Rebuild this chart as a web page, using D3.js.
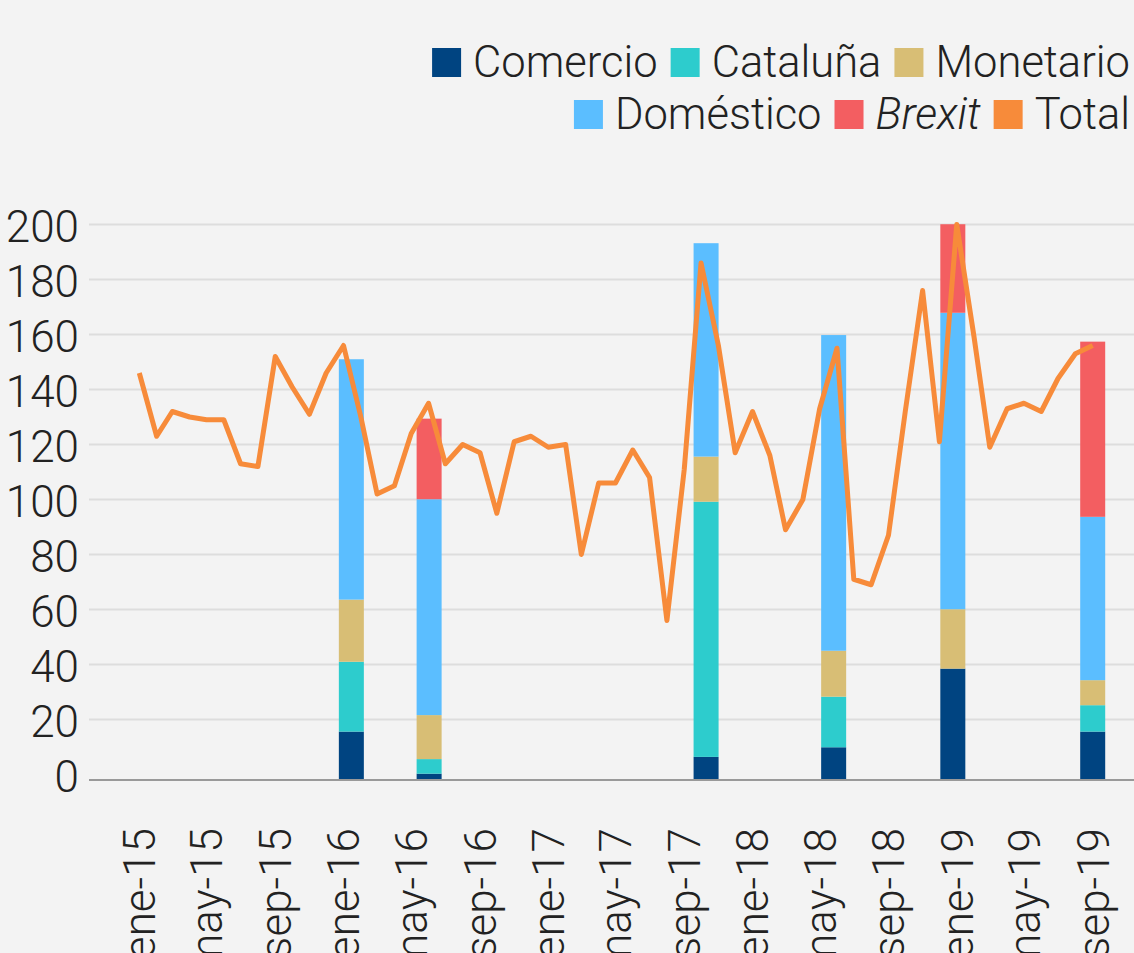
<!DOCTYPE html>
<html>
<head>
<meta charset="utf-8">
<script src="https://cdn.jsdelivr.net/npm/d3@7"></script>
<style>
  body { margin: 0; background: #f3f3f3; }
  svg { display: block; font-family: Roboto, 'Open Sans', sans-serif; font-weight: 300; }
</style>
</head>
<body>
<div id="vis"></div>
<script>
var width = 1134;
var height = 953;

// monthly total, ene-15 .. sep-19
var startMonth = new Date(2015, 0, 1);
var totalValues = [
  146, 123, 132, 130, 129, 129, 113, 112, 152, 141, 131, 146,
  156, 130, 102, 105, 124, 135, 113, 120, 117, 95, 121, 123,
  119, 120, 80, 106, 106, 118, 108, 56, 111, 186, 156, 117,
  132, 116, 89, 100, 133, 155, 71, 69, 87, 132, 176, 121,
  200, 159, 119, 133, 135, 132, 144, 153, 156
];

// episodes (stacked bars)
var barDates = ['2016-01-15', '2016-06-02', '2017-10-10', '2018-05-26', '2018-12-25', '2019-09-01'];
var comercio   = [15.6, 0.3,  6.4,   9.9, 38.5, 15.6];
var cataluna   = [25.4, 5.3, 92.8,  18.4,  0,    9.6];
var monetario  = [22.6, 16,  16.4,  16.7, 21.6,  9.1];
var domestico  = [87.4, 78.5, 77.6, 114.8, 107.8, 59.4];
var brexit     = [0,   29.3,  0,     0,   32.2, 63.7];

var seriesKeys = ['Comercio', 'Cataluña', 'Monetario', 'Doméstico', 'Brexit'];
var seriesColors = ['#004481', '#2dcccd', '#d8be75', '#5bbeff', '#f35e61'];
var totalColor = '#f78b3a';

var xTickLabels = ['ene-15', 'may-15', 'sep-15', 'ene-16', 'may-16', 'sep-16', 'ene-17', 'may-17',
  'sep-17', 'ene-18', 'may-18', 'sep-18', 'ene-19', 'may-19', 'sep-19'];
var yTicks = [0, 20, 40, 60, 80, 100, 120, 140, 160, 180, 200];

var parseDay = d3.timeParse('%Y-%m-%d');

var lineData = totalValues.map(function (v, i) {
  return { date: d3.timeMonth.offset(startMonth, i), value: v };
});

var barData = barDates.map(function (d, i) {
  return {
    date: parseDay(d),
    'Comercio': comercio[i],
    'Cataluña': cataluna[i],
    'Monetario': monetario[i],
    'Doméstico': domestico[i],
    'Brexit': brexit[i]
  };
});

var svg = d3.select('#vis').append('svg')
  .attr('width', width)
  .attr('height', height);

svg.append('rect')
  .attr('width', width)
  .attr('height', height)
  .attr('fill', '#f3f3f3');

var x = d3.scaleTime()
  .domain([startMonth, d3.timeMonth.offset(startMonth, totalValues.length - 1)])
  .range([139.3, 1092.7]);

// axis line sits slightly under zero, as in the original
var yMin = -2;
var y = d3.scaleLinear()
  .domain([yMin, 200])
  .range([780, 224.5]);

var plotLeft = 89;
var barWidth = 25;

// gridlines
svg.append('g')
  .selectAll('line')
  .data(yTicks.filter(function (d) { return d > 0; }))
  .enter().append('line')
    .attr('x1', plotLeft)
    .attr('x2', width)
    .attr('y1', function (d) { return y(d); })
    .attr('y2', function (d) { return y(d); })
    .attr('stroke', '#dddddd')
    .attr('stroke-width', 2);

// y labels
svg.append('g')
  .selectAll('text')
  .data(yTicks)
  .enter().append('text')
    .attr('x', 79)
    .attr('y', function (d) { return y(d) + 17; })
    .attr('text-anchor', 'end')
    .attr('font-size', 44)
    .attr('fill', '#222')
    .text(function (d) { return d; });

// stacked bars
var stack = d3.stack().keys(seriesKeys);
var layers = stack(barData);

svg.append('g')
  .selectAll('g')
  .data(layers)
  .enter().append('g')
    .attr('fill', function (d, i) { return seriesColors[i]; })
  .selectAll('rect')
  .data(function (d) { return d; })
  .enter().append('rect')
    .attr('x', function (d) { return x(d.data.date) - barWidth / 2; })
    .attr('width', barWidth)
    .attr('y', function (d) { return y(d[1]); })
    .attr('height', function (d) {
      var lo = d[0] === 0 ? yMin : d[0];
      return Math.max(0, y(lo) - y(d[1]));
    });

// axis line
svg.append('line')
  .attr('x1', plotLeft)
  .attr('x2', width)
  .attr('y1', y(yMin))
  .attr('y2', y(yMin))
  .attr('stroke', '#999')
  .attr('stroke-width', 2);

// total line
var line = d3.line()
  .x(function (d) { return x(d.date); })
  .y(function (d) { return y(d.value); });

svg.append('path')
  .datum(lineData)
  .attr('d', line)
  .attr('fill', 'none')
  .attr('stroke', totalColor)
  .attr('stroke-width', 5)
  .attr('stroke-linejoin', 'round');

// x axis labels
var xAxis = d3.axisBottom(x)
  .tickValues(xTickLabels.map(function (d, i) { return d3.timeMonth.offset(startMonth, i * 4); }))
  .tickSize(0)
  .tickFormat(function (d, i) { return xTickLabels[i]; });

var gx = svg.append('g')
  .attr('transform', 'translate(0,' + 828 + ')')
  .call(xAxis);
gx.select('.domain').remove();
gx.selectAll('text')
  .attr('font-size', 44)
  .attr('font-family', 'Roboto, sans-serif')
  .attr('font-weight', 300)
  .attr('fill', '#222')
  .attr('text-anchor', 'end')
  .attr('transform', 'rotate(-90)')
  .attr('x', 0)
  .attr('y', 0)
  .attr('dx', 0)
  .attr('dy', '0.35em');

// legend
var legendRows = [
  [{ name: 'Comercio', color: seriesColors[0] }, { name: 'Cataluña', color: seriesColors[1] }, { name: 'Monetario', color: seriesColors[2] }],
  [{ name: 'Doméstico', color: seriesColors[3] }, { name: 'Brexit', color: seriesColors[4], italic: true }, { name: 'Total', color: totalColor }]
];
var legendBase = [77, 129];

legendRows.forEach(function (row, r) {
  var gRow = svg.append('g');
  var cx = 0;
  row.forEach(function (item, k) {
    gRow.append('rect')
      .attr('x', cx)
      .attr('y', -29)
      .attr('width', 29)
      .attr('height', 29)
      .attr('fill', item.color);
    cx += 29 + 12;
    var t = gRow.append('text')
      .attr('x', cx)
      .attr('y', 0)
      .attr('font-size', 43.5)
      .attr('fill', '#222')
      .style('font-style', item.italic ? 'italic' : 'normal')
      .text(item.name);
    cx += t.node().getComputedTextLength();
    if (k < row.length - 1) cx += 13;
  });
  gRow.attr('transform', 'translate(' + (1130 - cx) + ',' + legendBase[r] + ')');
});
</script>
</body>
</html>
